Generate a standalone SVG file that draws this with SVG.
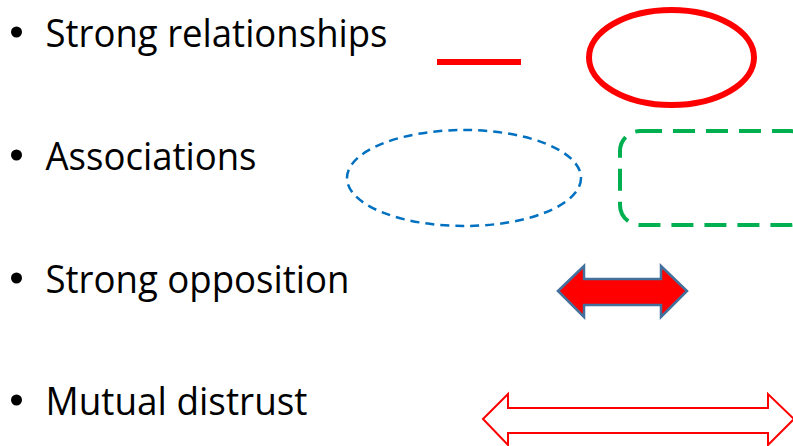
<svg xmlns="http://www.w3.org/2000/svg" width="793" height="446" viewBox="0 0 793 446">
  <style>
    .label { font-family: "Open Sans", "Noto Sans", "Liberation Sans", sans-serif; font-size: 38px; fill: #000; }
    .bullet { fill: #000; }
  </style>
  <rect width="793" height="446" fill="#fff"/>

  <!-- Legend labels -->
  <g id="item-strong-relationships">
    <circle class="bullet" cx="16.5" cy="32" r="5.5"/>
    <text class="label" x="45.5" y="47" textLength="342" lengthAdjust="spacingAndGlyphs">Strong relationships</text>
  </g>
  <g id="item-associations">
    <circle class="bullet" cx="16.5" cy="155" r="5.5"/>
    <text class="label" x="45.5" y="170" textLength="211" lengthAdjust="spacingAndGlyphs">Associations</text>
  </g>
  <g id="item-strong-opposition">
    <circle class="bullet" cx="16.5" cy="278" r="5.5"/>
    <text class="label" x="45.5" y="293" textLength="304" lengthAdjust="spacingAndGlyphs">Strong opposition</text>
  </g>
  <g id="item-mutual-distrust">
    <circle class="bullet" cx="16.5" cy="400" r="5.5"/>
    <text class="label" x="45.5" y="415" textLength="262" lengthAdjust="spacingAndGlyphs">Mutual distrust</text>
  </g>

  <!-- Legend symbols -->
  <g id="symbols">
    <line id="strong-line" x1="437" y1="62" x2="521" y2="62" stroke="#ff0000" stroke-width="6"/>
    <ellipse id="strong-ellipse" cx="671.5" cy="57.5" rx="82.5" ry="47.5" fill="none" stroke="#ff0000" stroke-width="6"/>
    <ellipse id="assoc-ellipse" cx="464" cy="178" rx="117" ry="48" fill="none" stroke="#0070c0" stroke-width="2.5" stroke-dasharray="9 6"/>
    <rect id="assoc-box" x="620" y="131" width="190" height="94" rx="20" ry="20" fill="none" stroke="#00b050" stroke-width="4" stroke-dasharray="22 11"/>
    <path id="opposition-arrow" d="M558,291 L584,266 L584,279 L661,279 L661,266 L687,291 L661,317 L661,305 L584,305 L584,317 Z" fill="#ff0000" stroke="#41719c" stroke-width="2.5" stroke-linejoin="miter"/>
    <path id="distrust-arrow" d="M483,419 L508,394 L508,408 L768,408 L768,394 L794,419 L768,445 L768,433 L508,433 L508,445 Z" fill="#fff" stroke="#ff0000" stroke-width="2"/>
  </g>
</svg>
